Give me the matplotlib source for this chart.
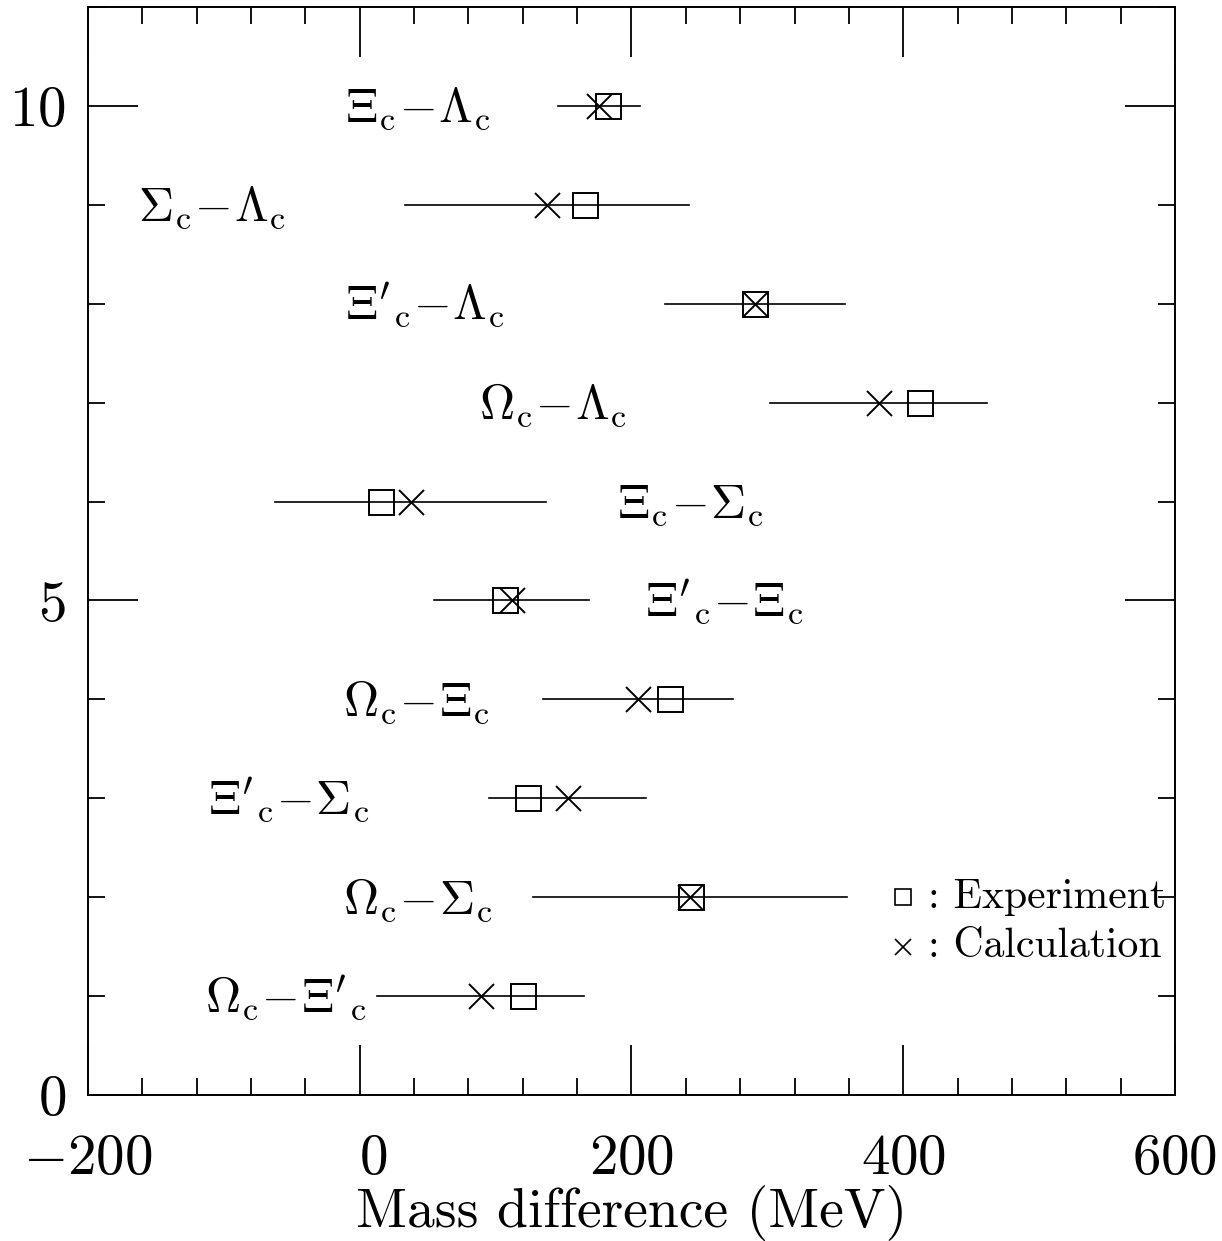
import numpy as np
import matplotlib
matplotlib.use('Agg')
import matplotlib.pyplot as plt
from matplotlib.ticker import MultipleLocator, FuncFormatter

plt.rcParams['font.family'] = 'cmr10'
plt.rcParams['mathtext.fontset'] = 'cm'
plt.rcParams['axes.unicode_minus'] = False

# rows from top (10) to bottom (1)
rows = [10, 9, 8, 7, 6, 5, 4, 3, 2, 1]
labels = [r'$\Xi_{\rm c}\!-\!\Lambda_{\rm c}$',
          r'$\Sigma_{\rm c}\!-\!\Lambda_{\rm c}$',
          r"$\Xi'{}_{\rm c}\!-\!\Lambda_{\rm c}$",
          r'$\Omega_{\rm c}\!-\!\Lambda_{\rm c}$',
          r'$\Xi_{\rm c}\!-\!\Sigma_{\rm c}$',
          r"$\Xi'{}_{\rm c}\!-\!\Xi_{\rm c}$",
          r'$\Omega_{\rm c}\!-\!\Xi_{\rm c}$',
          r"$\Xi'{}_{\rm c}\!-\!\Sigma_{\rm c}$",
          r'$\Omega_{\rm c}\!-\!\Sigma_{\rm c}$',
          r"$\Omega_{\rm c}\!-\!\Xi'{}_{\rm c}$"]
label_x = [-11, -163, -11, 88, 189, 210, -12, -112, -12, -114]

experiment = [183, 166, 291, 412, 16, 107, 228, 124, 244, 120]
calculation = [176, 138, 291, 382, 37.5, 112, 205, 153, 243, 89]
calc_err = [30, 104.5, 66, 80, 99.5, 57, 70, 58, 115.5, 76]


def xfmt(v, p):
    if v == 0:
        return r'$\;\;0$'
    return r'$%d$' % v


fig = plt.figure(figsize=(12.22, 12.41), dpi=100)
ax = fig.add_axes([0.072, 0.1176, 0.8895, 0.8768])

for y, e, c, err in zip(rows, experiment, calculation, calc_err):
    ax.plot([c - err, c + err], [y, y], color='black', lw=1.2)
ax.plot(experiment, rows, ls='none', marker='s', ms=18, mfc='none', mec='black', mew=1.4)
ax.plot(calculation, rows, ls='none', marker='x', ms=18, mec='black', mew=1.4)

for y, lx, lab in zip(rows, label_x, labels):
    ax.text(lx, y - 0.165, lab, fontsize=35, va='baseline', ha='left')

# legend
ax.plot([400], [2.0], ls='none', marker='s', ms=12, mfc='none', mec='black', mew=1.2, clip_on=False)
ax.plot([400], [1.5], ls='none', marker='x', ms=12, mec='black', mew=1.2, clip_on=False)
ax.text(418, 2.0, ': Experiment', fontsize=30, va='center', ha='left')
ax.text(418, 1.5, ': Calculation', fontsize=30, va='center', ha='left')

ax.set_xlim(-200, 600)
ax.set_ylim(0, 11)
ax.xaxis.set_major_locator(MultipleLocator(200))
ax.xaxis.set_minor_locator(MultipleLocator(40))
ax.yaxis.set_major_locator(MultipleLocator(5))
ax.yaxis.set_minor_locator(MultipleLocator(1))
ax.xaxis.set_major_formatter(FuncFormatter(xfmt))
ax.yaxis.set_major_formatter(FuncFormatter(lambda v, p: r'$%d$' % v))

ax.tick_params(which='both', direction='in', top=True, right=True, width=1.3, labelsize=41)
ax.tick_params(which='major', length=36)
ax.tick_params(which='minor', length=12)
ax.tick_params(axis='x', which='major', pad=28)
ax.tick_params(axis='y', which='major', pad=16)
for s in ax.spines.values():
    s.set_linewidth(1.4)

ax.set_xlabel('Mass difference (MeV)', fontsize=40, labelpad=0)

fig.savefig('out.png', dpi=100)
